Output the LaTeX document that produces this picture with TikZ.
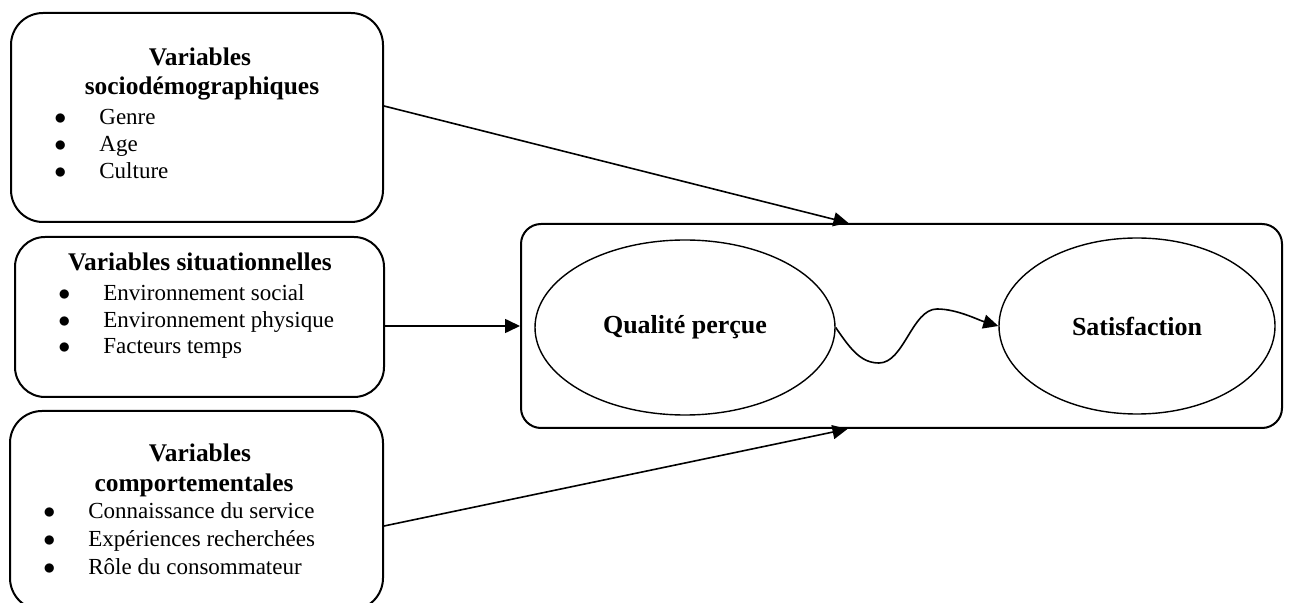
\documentclass[tikz,border=0pt]{standalone}
\usepackage{fontspec}
\setmainfont{Liberation Serif}
\usetikzlibrary{positioning, arrows.meta, shapes.geometric}
\tikzset{boite/.style={draw, line width=1pt, inner sep=0pt},
         bulle/.style={ellipse, draw, line width=0.7pt, inner sep=0pt,
                       font=\fontsize{13}{15}\selectfont\bfseries},
         titre/.style={anchor=base, inner sep=0pt,
                       font=\fontsize{12.7}{15}\selectfont\bfseries},
         puce/.style={anchor=base west, inner sep=0pt,
                      font=\fontsize{11.5}{13.5}\selectfont},
         fleche/.style={-{Triangle[length=7.5pt,width=7pt]}, line width=0.8pt}}
\newcommand{\itempuce}[1]{\makebox[22.5pt][l]{$\bullet$}#1}

\begin{document}
\begin{tikzpicture}[x=0.5pt, y=-0.5pt]
        \useasboundingbox (0,0) rectangle (1289,603);
        \clip (0,0) rectangle (1289,603);

        % Boxes
        \node[boite, rounded corners=16pt, minimum width=186pt, minimum height=104.5pt] (socio) at (197,117.5) {};
        \node[boite, rounded corners=15pt, minimum width=184.5pt, minimum height=80pt] (situ) at (199.5,317) {};
        \node[boite, rounded corners=16pt, minimum width=186.5pt, minimum height=99.5pt] (comport) at (196.5,510.5) {};
        \node[boite, rounded corners=10pt, minimum width=380.5pt, minimum height=102pt] (cadre) at (901.5,326) {};

        % Texts
        \node[titre] (socio-t1) at (200,66) {Variables};
        \node[titre] (socio-t2) at (202,95) {sociodémographiques};
        \foreach \txt/\y [count=\i] in {Genre/124.5, Age/151.5, Culture/178.5}
            \node[puce] (socio-i\i) at (54,\y) {\itempuce{\txt}};

        \node[titre] (situ-t1) at (200,271) {Variables situationnelles};
        \foreach \txt/\y [count=\i] in {Environnement social/301, Environnement physique/328, Facteurs temps/354}
            \node[puce] (situ-i\i) at (58,\y) {\itempuce{\txt}};

        \node[titre] (comport-t1) at (200,462) {Variables};
        \node[titre] (comport-t2) at (194,491) {comportementales};
        \foreach \txt/\y [count=\i] in {Connaissance du service/518, Expériences recherchées/546, Rôle du consommateur/574}
            \node[puce] (comport-i\i) at (43,\y) {\itempuce{\txt}};

        % Ellipses
        \node[bulle, minimum width=150pt, minimum height=87.5pt] (qualite) at (685,327.5) {Qualité perçue};
        \node[bulle, minimum width=138pt, minimum height=88pt] (satis) at (1137,326) {Satisfaction};

        % Edges
        \draw[fleche] ([yshift=5.75pt]socio.east) -- ([xshift=-26.5pt]cadre.north);
        \draw[fleche] (situ.east |- cadre.west) -- (cadre.west);
        \draw[fleche] ([yshift=-7.75pt]comport.east) -- ([xshift=-27pt]cadre.south);
        \draw[fleche] (qualite.east) .. controls +(15,22) and +(-18,0) .. (879,363)
            .. controls +(25,0) and +(-25,0) .. (937,309)
            .. controls +(20,0) and +(-20,-6) .. (satis.west);
    \end{tikzpicture}
\end{document}
